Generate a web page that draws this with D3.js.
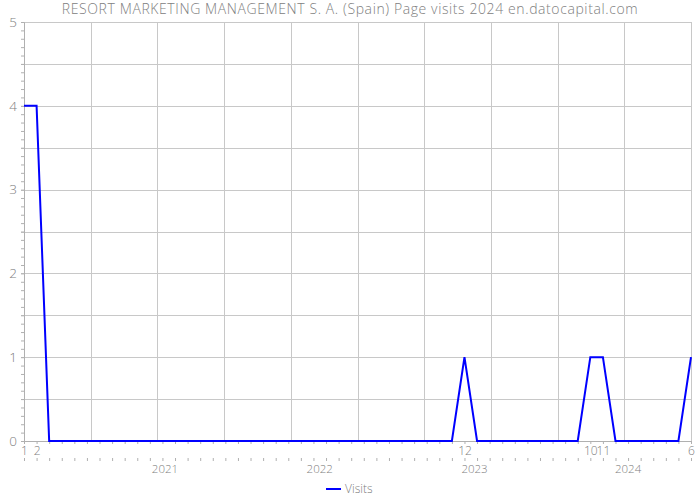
<!DOCTYPE html>
<html>
<head>
<meta charset="utf-8">
<script src="https://cdnjs.cloudflare.com/ajax/libs/d3/7.8.5/d3.min.js"></script>
<style>
  html, body { margin: 0; padding: 0; background: #fff; }
  svg { display: block; font-family: "Open Sans", "DejaVu Sans", sans-serif; font-weight: 300; }
</style>
</head>
<body>
<div id="chart"></div>
<script>
const title = "RESORT MARKETING MANAGEMENT S. A. (Spain) Page visits 2024 en.datocapital.com";
const seriesName = "Visits";

const months = [
  "2020-01","2020-02","2020-03","2020-04","2020-05","2020-06","2020-07","2020-08","2020-09","2020-10","2020-11","2020-12",
  "2021-01","2021-02","2021-03","2021-04","2021-05","2021-06","2021-07","2021-08","2021-09","2021-10","2021-11","2021-12",
  "2022-01","2022-02","2022-03","2022-04","2022-05","2022-06","2022-07","2022-08","2022-09","2022-10","2022-11","2022-12",
  "2023-01","2023-02","2023-03","2023-04","2023-05","2023-06","2023-07","2023-08","2023-09","2023-10","2023-11","2023-12",
  "2024-01","2024-02","2024-03","2024-04","2024-05","2024-06"
];
const visits = [
  4,4,0,0,0,0,0,0,0,0,0,0,
  0,0,0,0,0,0,0,0,0,0,0,0,
  0,0,0,0,0,0,0,0,0,0,0,1,
  0,0,0,0,0,0,0,0,0,1,1,0,
  0,0,0,0,0,1
];
const monthTickLabels = [
  {month: "2020-01", label: "1"},
  {month: "2020-02", label: "2"},
  {month: "2022-12", label: "12"},
  {month: "2023-10", label: "10"},
  {month: "2023-11", label: "11"},
  {month: "2024-06", label: "6"}
];
// year labels with their (fractional) month position
const yearLabels = [
  {label: "2021", pos: 11.2},
  {label: "2022", pos: 23.5},
  {label: "2023", pos: 35.8},
  {label: "2024", pos: 48}
];
const yTickLabels = [0, 1, 2, 3, 4, 5];

const W = 700, H = 500;
const margin = {left: 24, right: 9, top: 22, bottom: 59};
const iw = W - margin.left - margin.right;
const ih = H - margin.top - margin.bottom;

const svg = d3.select("#chart").append("svg").attr("width", W).attr("height", H);
const g = svg.append("g").attr("transform", `translate(${margin.left},${margin.top})`);

const x = d3.scaleLinear().domain([0, months.length - 1]).range([0, iw]);
const y = d3.scaleLinear().domain([0, 5]).range([ih, 0]);

const gridColor = "#c8c8c8";
const axisColor = "#b0b0b0";
const textColor = "#808080";

// horizontal grid every 0.5
g.append("g").selectAll("line").data(d3.range(0.5, 5.01, 0.5)).join("line")
  .attr("x1", -3).attr("x2", iw)
  .attr("y1", d => Math.round(y(d)) + 0.5).attr("y2", d => Math.round(y(d)) + 0.5)
  .attr("stroke", gridColor).attr("stroke-width", 1);

// vertical grid: 10 equal divisions
g.append("g").selectAll("line").data(d3.range(1, 11).map(i => (months.length - 1) * i / 10)).join("line")
  .attr("x1", d => Math.round(x(d)) + 0.5).attr("x2", d => Math.round(x(d)) + 0.5)
  .attr("y1", 0).attr("y2", ih)
  .attr("stroke", gridColor).attr("stroke-width", 1);

// left axis
const yAxisMinor = d3.axisLeft(y).tickValues(d3.range(0, 5.001, 0.1)).tickSize(3).tickFormat("");
const ya = g.append("g").call(yAxisMinor);
ya.select(".domain").attr("stroke", axisColor);
ya.selectAll(".tick line").attr("stroke", axisColor);

const yAxisLab = d3.axisLeft(y).tickValues(yTickLabels).tickSize(0).tickPadding(7).tickFormat(d3.format("d"));
const yl = g.append("g").call(yAxisLab);
yl.select(".domain").remove();
yl.selectAll("text").attr("fill", textColor).attr("font-size", 13.5)
  .attr("font-family", "'Open Sans', sans-serif").attr("font-weight", 300);

// bottom axis with month ticks
const xAxis = d3.axisBottom(x).tickValues(d3.range(0, months.length)).tickSize(3)
  .tickFormat(i => { const t = monthTickLabels.find(o => o.month === months[i]); return t ? t.label : ""; })
  .tickPadding(2);
const xa = g.append("g").attr("transform", `translate(0,${ih})`).call(xAxis);
xa.select(".domain").attr("stroke", axisColor);
xa.selectAll(".tick line").attr("stroke", axisColor);
xa.selectAll("text").attr("fill", textColor).attr("font-size", 12)
  .attr("font-family", "'Open Sans', sans-serif").attr("font-weight", 300);

// second row of month ticks
const xAxis2 = d3.axisBottom(x).tickValues(d3.range(0, months.length)).tickSize(3).tickFormat("");
const xa2 = g.append("g").attr("transform", `translate(0,${ih + 17})`).call(xAxis2);
xa2.select(".domain").remove();
xa2.selectAll(".tick line").attr("stroke", axisColor);

// year labels
g.append("g").selectAll("text").data(yearLabels).join("text")
  .attr("x", d => x(d.pos)).attr("y", ih + 32)
  .attr("text-anchor", "middle").attr("fill", textColor).attr("font-size", 11.5)
  .text(d => d.label);

// line
const line = d3.line().x((d, i) => x(i)).y(d => y(d));
g.append("path").datum(visits).attr("d", line)
  .attr("fill", "none").attr("stroke", "#0000ff").attr("stroke-width", 2).attr("stroke-linejoin", "miter");

// title
svg.append("text").attr("x", 350).attr("y", 14).attr("text-anchor", "middle")
  .attr("fill", textColor).attr("font-size", 14).attr("letter-spacing", 0.6).text(title);

// legend
const lg = svg.append("g").attr("transform", "translate(326,489)");
lg.append("line").attr("x1", 0).attr("x2", 15).attr("y1", 0).attr("y2", 0)
  .attr("stroke", "#0000ff").attr("stroke-width", 2);
lg.append("text").attr("x", 19).attr("y", 4).attr("fill", textColor).attr("font-size", 12).text(seriesName);
</script>
</body>
</html>
